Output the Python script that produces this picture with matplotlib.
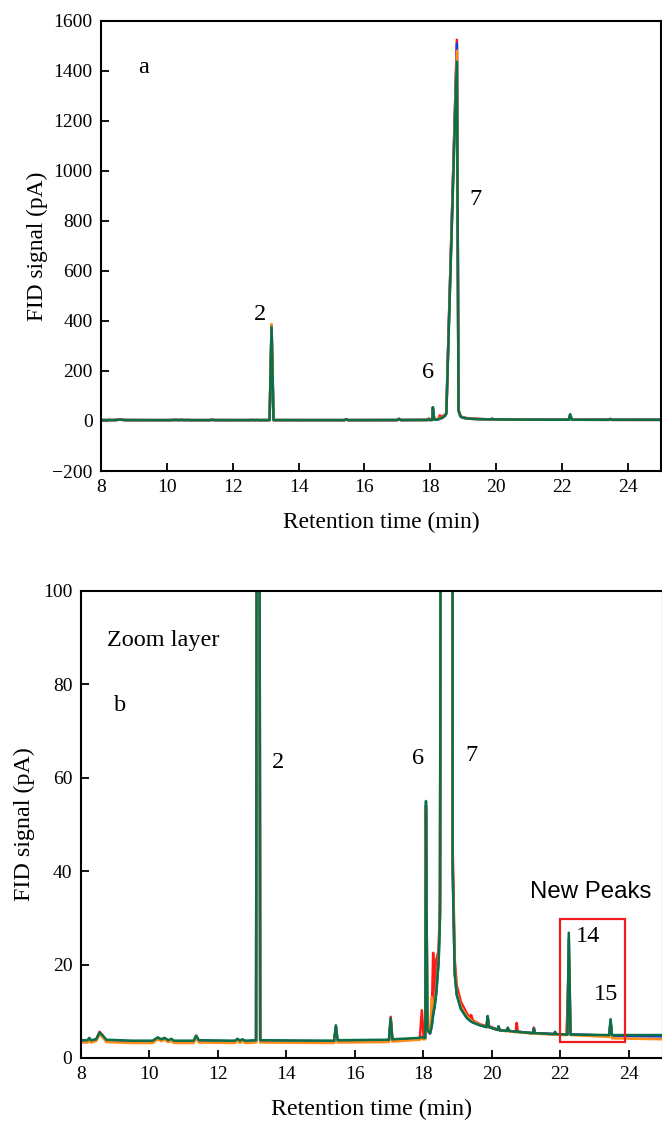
import matplotlib
matplotlib.use("Agg")
import matplotlib.pyplot as plt
from matplotlib.patches import Rectangle

# retention time breakpoints (min)
rt = [8.00, 8.20, 8.25, 8.30, 8.45, 8.55, 8.62, 8.75, 9.50, 10.10,
      10.25, 10.35, 10.45, 10.55, 10.65, 10.72, 11.30, 11.37, 11.45, 12.50,
      12.58, 12.65, 12.72, 12.80, 13.12, 13.18, 13.24, 15.40, 15.45, 15.50,
      17.00, 17.05, 17.10, 17.90, 17.96, 18.01, 18.06, 18.08, 18.12, 18.20,
      18.25, 18.29, 18.33, 18.38, 18.45, 18.49, 18.56, 18.68, 18.74, 18.81,
      18.86, 18.92, 18.98, 19.10, 19.27, 19.36, 19.40, 19.45, 19.66, 19.85,
      19.88, 19.92, 20.17, 20.20, 20.23, 20.44, 20.47, 20.50, 20.70, 20.73,
      20.76, 21.20, 21.23, 21.26, 21.82, 21.85, 21.88, 22.18, 22.21, 22.25,
      22.30, 23.43, 23.47, 23.51, 25.00]

green = [3.8, 3.8, 4.3, 3.8, 4.0, 5.4, 5.0, 3.9, 3.7, 3.7,
         4.4, 4.0, 4.3, 3.8, 4.1, 3.7, 3.7, 4.8, 3.8, 3.7,
         4.1, 3.7, 4.0, 3.7, 3.8, 375, 3.8, 3.7, 7.0, 3.8,
         3.9, 8.5, 4.0, 4.3, 4.5, 4.3, 4.3, 55, 6.0, 5.3,
         7.0, 9.5, 11.0, 14.0, 21.0, 30, 350, 880, 1150, 1436,
         40, 18, 13.5, 10.5, 8.6, 8.0, 7.8, 7.6, 7.0, 6.6,
         9.0, 6.6, 6.0, 6.8, 5.9, 5.8, 6.5, 5.8, 5.6, 5.7,
         5.6, 5.3, 6.3, 5.3, 5.1, 5.6, 5.1, 5.0, 5.0, 26.8,
         5.0, 4.9, 8.3, 4.9, 4.9]

orange = [3.3, 3.3, 3.8, 3.3, 3.6, 5.0, 4.6, 3.4, 3.2, 3.2,
          4.0, 3.6, 3.9, 3.4, 3.6, 3.2, 3.2, 4.4, 3.3, 3.2,
          3.7, 3.2, 3.6, 3.2, 3.3, 388, 3.3, 3.2, 6.5, 3.3,
          3.4, 8.0, 3.5, 3.9, 4.2, 4.0, 4.0, 54, 5.6, 5.5,
          13.0, 10.0, 12.0, 15.0, 22.0, 32, 360, 900, 1180, 1480,
          42, 19, 14.0, 11.0, 9.0, 8.3, 8.0, 7.8, 7.1, 6.6,
          8.6, 6.6, 6.0, 6.6, 5.9, 5.7, 6.3, 5.7, 5.5, 5.6,
          5.5, 5.2, 6.0, 5.2, 5.0, 5.4, 5.0, 4.9, 6.0, 24.0,
          4.9, 4.5, 7.8, 4.2, 4.0]

red = [3.6, 3.6, 4.1, 3.6, 3.9, 5.6, 5.0, 3.7, 3.5, 3.5,
       4.3, 3.9, 4.2, 3.7, 3.9, 3.5, 3.5, 4.7, 3.6, 3.5,
       4.0, 3.5, 3.9, 3.5, 3.6, 380, 3.6, 3.5, 6.8, 3.6,
       3.7, 8.8, 3.8, 4.2, 10.2, 4.6, 4.6, 53, 6.2, 6.0,
       9.0, 22.5, 12.5, 21.0, 23.0, 34, 370, 920, 1200, 1524,
       45, 21, 15.5, 12.0, 9.6, 8.6, 9.2, 8.0, 7.2, 6.8,
       8.8, 6.8, 6.1, 6.6, 6.0, 5.8, 6.2, 5.8, 5.6, 7.5,
       5.6, 5.3, 6.5, 5.3, 5.1, 5.5, 5.1, 5.0, 10.0, 20.0,
       5.0, 4.8, 7.5, 4.8, 4.8]

blue = [3.5, 3.5, 4.0, 3.5, 3.8, 5.2, 4.8, 3.6, 3.4, 3.4,
        4.2, 3.8, 4.1, 3.6, 3.8, 3.4, 3.4, 4.5, 3.5, 3.4,
        3.9, 3.4, 3.8, 3.4, 3.5, 382, 3.5, 3.4, 6.6, 3.5,
        3.6, 8.2, 3.7, 4.1, 4.4, 4.2, 4.2, 54, 5.8, 5.2,
        6.8, 9.2, 10.8, 13.8, 20.5, 31, 365, 910, 1190, 1510,
        41, 18, 13.5, 10.5, 8.6, 8.0, 7.8, 7.6, 7.0, 6.6,
        8.8, 6.6, 6.0, 6.7, 5.9, 5.8, 6.4, 5.8, 5.6, 5.7,
        5.6, 5.3, 6.2, 5.3, 5.1, 5.5, 5.1, 5.0, 5.0, 25.5,
        5.0, 4.8, 8.0, 4.7, 4.6]

# peak labels: (text, x, y) for each panel
labels_a = [("a", 9.28, 1412), ("2", 12.83, 424), ("6", 17.94, 192), ("7", 19.37, 884)]
labels_b = [("b", 9.15, 75.5), ("2", 13.77, 63.3), ("6", 17.86, 64.0), ("7", 19.4, 64.8),
            ("14", 22.8, 26.0), ("15", 23.34, 13.5)]

serif = ["Liberation Serif", "DejaVu Serif"]
plt.rcParams["font.family"] = serif

traces = [(red, "#ff1a1a"), (blue, "#1a3fd9"), (orange, "#ff8c1a"), (green, "#0a7048")]

fig = plt.figure(figsize=(6.62, 11.25), dpi=100)
ax1 = fig.add_axes([0.1526, 0.5813, 0.8454, 0.4003])
ax2 = fig.add_axes([0.1219, 0.0596, 0.8796, 0.4153])

for ax, lab_size in ((ax1, 16.8), (ax2, 17.3)):
    for vals, col in traces:
        ax.plot(rt, vals, color=col, lw=1.8, solid_joinstyle="round")
    ax.set_xlim(8, 25)
    ax.set_xticks(range(8, 25, 2))
    ax.tick_params(direction="in", length=6, width=1.3, labelsize=14, pad=6,
                   top=False, right=False)
    for s in ax.spines.values():
        s.set_linewidth(1.5)
    ax.set_xlabel("Retention time (min)", fontsize=lab_size, labelpad=11)
    ax.set_ylabel("FID signal (pA)", fontsize=lab_size)

ax1.set_ylim(-200, 1600)
ax1.set_yticks(range(-200, 1601, 200))
ax1.set_yticklabels([str(v).replace("-", "\u2212") for v in range(-200, 1601, 200)])
ax1.yaxis.set_label_coords(-0.095, 0.5)

ax2.set_ylim(0, 100)
ax2.set_yticks(range(0, 101, 20))
ax2.yaxis.set_label_coords(-0.078, 0.5)

for txt, x, y in labels_a:
    ax1.text(x, y, txt, fontsize=17.5, ha="center", va="center")
for txt, x, y in labels_b:
    ax2.text(x, y, txt, fontsize=17.5, ha="center", va="center")

ax2.text(10.4, 89.4, "Zoom layer", fontsize=17.5, ha="center", va="center")
ax2.text(22.88, 35.5, "New Peaks", fontsize=17.3, ha="center", va="center",
         family=["Liberation Sans", "DejaVu Sans"])
ax2.add_patch(Rectangle((22.0, 3.5), 1.9, 26.2, fill=False, edgecolor="#ee1c1c", lw=1.6, zorder=5))

fig.savefig("out.png", dpi=100)
